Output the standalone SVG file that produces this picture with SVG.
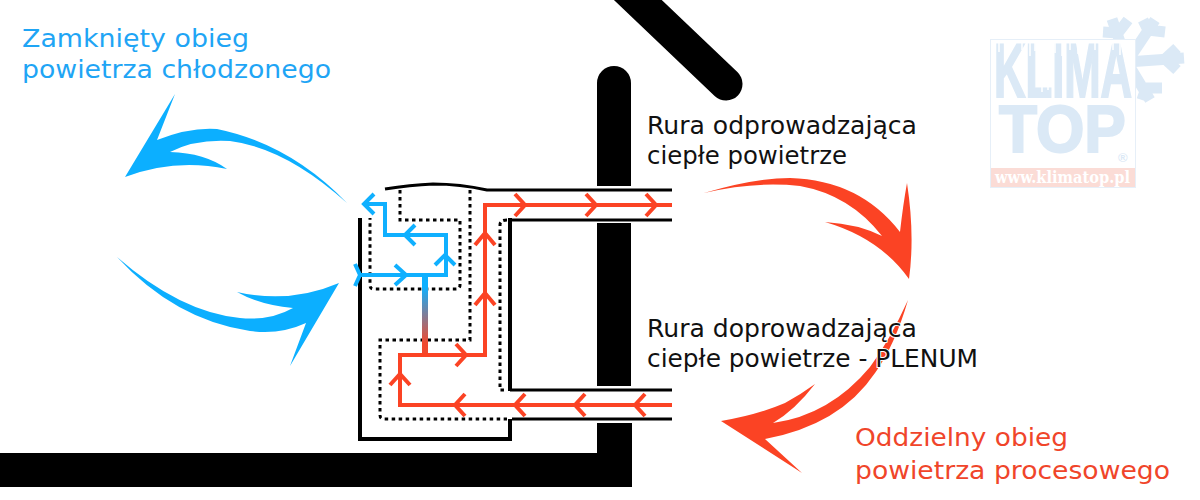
<svg xmlns="http://www.w3.org/2000/svg" width="1200" height="500" viewBox="0 0 1200 500">
<style>
.duct{fill:none;stroke:#000;stroke-width:3}
.body{fill:none;stroke:#000;stroke-width:4;stroke-linejoin:miter}
.dot{fill:none;stroke:#000;stroke-width:3;stroke-dasharray:3.5 3.5}
.red{fill:none;stroke:#fb4324;stroke-width:4}
.blue{fill:none;stroke:#0fb0ff;stroke-width:4}
.big-blue{fill:#0cafff}
.big-red{fill:#fb4324}
text{font-family:"DejaVu Sans",Verdana,sans-serif;font-size:25px}
.lab{fill:#111;paint-order:stroke;stroke:#fff;stroke-width:2px}
.logo{fill:#dbe9f6;stroke:#dbe9f6;stroke-width:2px;font-family:"Liberation Sans",Arial,sans-serif;font-weight:700}
.sf{fill:none;stroke:#dbe9f6;stroke-width:11}
</style>
<defs>
<linearGradient id="mix" gradientUnits="userSpaceOnUse" x1="425" y1="275" x2="425" y2="355">
<stop offset="0.15" stop-color="#0fb0ff"/><stop offset="0.85" stop-color="#f04a30"/>
</linearGradient>
</defs>
<g id="logo">
<g class="sf">
<path d="M1127 62L1112 19M1118 33L1128 20M1118 33L1103 32"/>
<path d="M1127 62L1155 20M1148 30L1143 20M1148 30L1165 32"/>
<path d="M1127 62L1184 58M1165 59L1177 48M1165 59L1177 70"/>
<path d="M1127 62L1150 100M1146 88L1162 88M1146 88L1142 100"/>
</g>
<rect x="990.500" y="39.500" width="145" height="148" fill="#fff" stroke="#e6eff8"/>
<text class="logo" transform="translate(994 97) scale(0.574 1)" style="font-size:76px">KLIMA</text>
<text class="logo" transform="translate(999 152) scale(0.943 1)" style="font-size:66px">TOP</text>
<path d="M999 42V52M1005 42V55M1022 42V50M1030 42V56M1035 42V51M1055 42V53M1062 42V56M1070 42V50M1078 42V54M1095 42V50M1102 42V53M1113 42V50M1120 42V55M1042 85V92M1048 85V90" fill="none" stroke="#fff" stroke-width="1.500"/>
<text class="logo" x="1118" y="162" style="font-size:13px;stroke-width:0">®</text>
<rect x="991" y="168" width="144" height="19" fill="#fbdcd6"/>
<text x="995" y="183" textLength="135" lengthAdjust="spacingAndGlyphs" fill="#fff" style="font-size:16px;font-weight:700;font-family:'DejaVu Serif',serif">www.klimatop.pl</text>
</g>
<g id="building">
<path d="M597 83a17 17 0 0 1 34 0V186H597ZM597 223H631V386H597Z" fill="#000"/>
<path d="M0 453H597V423H632V487H0Z" fill="#000"/>
<path d="M620 -17L726 84" fill="none" stroke="#000" stroke-width="33" stroke-linecap="round"/>
</g>
<g id="unit">
<path class="duct" d="M385 189Q410 185 433 184Q460 184 487 190H672"/>
<path class="duct" d="M672 220H510M510 390H672M512 419H672"/>
<path class="body" d="M360 218V439H510V419M510 218V391"/>
<path class="dot" d="M400 190V220H460V285Q460 289 456 289H374Q370 289 370 285V218"/>
<path class="dot" d="M470 190V340H380V415Q380 419 384 419H507"/>
<path class="dot" d="M507 220Q500 220 500 225V390H507"/>
</g>
<g id="connectors">
<path d="M425 275V355" fill="none" stroke="url(#mix)" stroke-width="6"/>
<path class="red" d="M672 405H400V355H485V205H672"/>
<path class="red" d="M515 194L525 205L515 216M586 194L596 205L586 216M646 194L656 205L646 216M475 245L485 233L495 245M475 305L485 293L495 305M456 344L466 355L456 366M390 385L400 374L410 385M465 394L455 405L465 416M525 394L515 405L525 416M585 394L575 405L585 416M645 394L635 405L645 416"/>
<path class="blue" d="M360 275H446V235H385V204H365"/>
<path class="blue" d="M374 194L364 204L374 214M415 225L405 235L415 245M435 265L445 255L455 265M395 265L406 275L395 285M355 264L360 275L355 286"/>
</g>
<g id="flow-arrows">
<path class="big-blue" d="M125 177L175 94L157 140Q190 127 217 129Q290 144 347 203Q286 148 230 141Q195 139 170 152Q205 153 227 169Q175 158 125 177Z"/>
<path class="big-blue" d="M339 283L290 366L306 323Q280 335 250 331Q175 320 117 257Q180 312 240 318Q270 321 293 308Q260 305 237 292Q290 304 339 283Z"/>
<path class="big-red" d="M704 193Q755 178 790 178Q860 180 900 232Q903 205 907 183Q915 235 909 279Q880 238 825 222Q858 224 882 236Q850 195 800 186Q755 181 704 193Z"/>
<path class="big-red" d="M908 300Q895 345 875 373Q840 425 765 439L802 473L721 421Q757 415 785 403Q800 395 815 384Q795 410 773 423Q830 415 870 367Q890 340 908 300Z"/>
</g>
<g id="labels">
<text x="22" y="47" fill="#1fa5f5" textLength="227" lengthAdjust="spacingAndGlyphs">Zamknięty obieg</text>
<text x="22" y="78" fill="#1fa5f5" textLength="309" lengthAdjust="spacingAndGlyphs">powietrza chłodzonego</text>
<text class="lab" x="647" y="134" textLength="270" lengthAdjust="spacingAndGlyphs">Rura odprowadzająca</text>
<text class="lab" x="647" y="164" textLength="200" lengthAdjust="spacingAndGlyphs">ciepłe powietrze</text>
<text class="lab" x="647" y="337" textLength="270" lengthAdjust="spacingAndGlyphs">Rura doprowadzająca</text>
<text class="lab" x="647" y="367" textLength="331" lengthAdjust="spacingAndGlyphs">ciepłe powietrze - PLENUM</text>
<text x="855" y="446" fill="#f0452a" textLength="213" lengthAdjust="spacingAndGlyphs">Oddzielny obieg</text>
<text x="855" y="479" fill="#f0452a" textLength="315" lengthAdjust="spacingAndGlyphs">powietrza procesowego</text>
</g>
</svg>
